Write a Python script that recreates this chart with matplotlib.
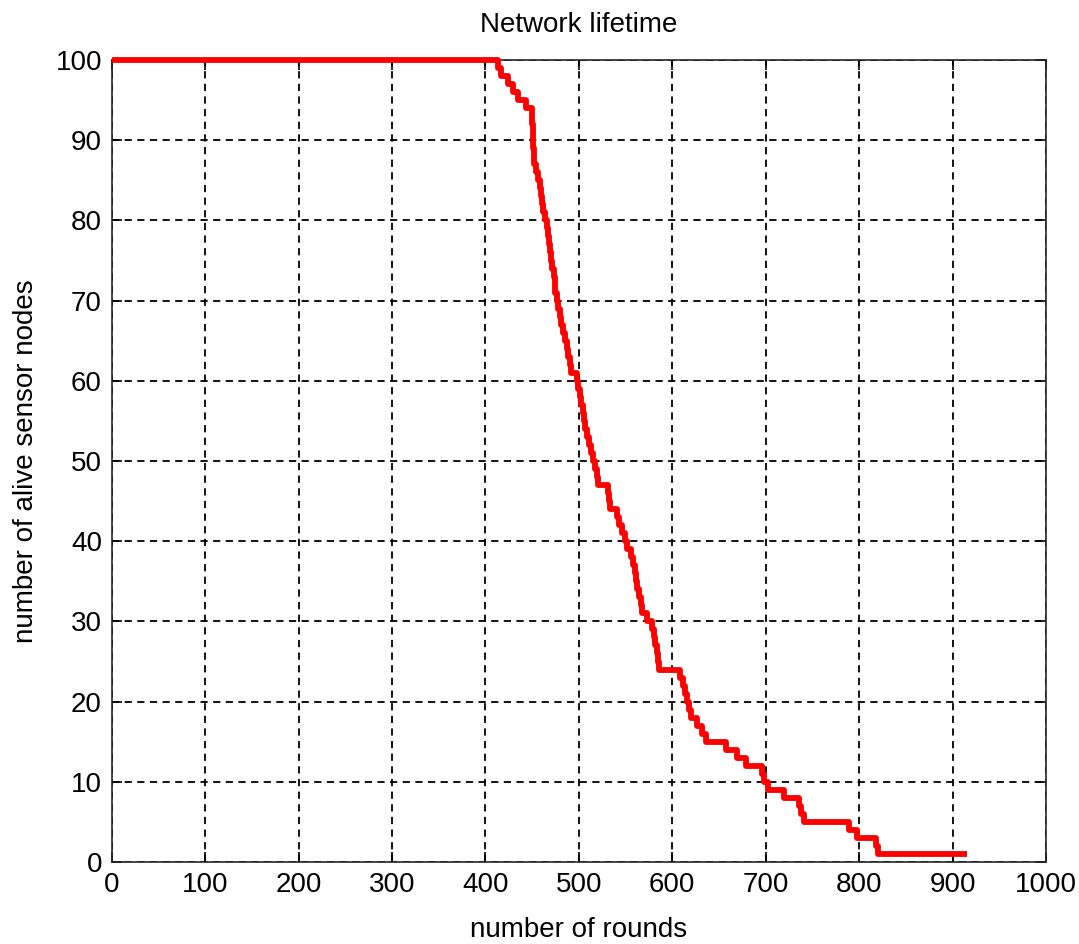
import matplotlib
matplotlib.use("Agg")
import matplotlib.pyplot as plt
from matplotlib import font_manager

# ---- data ----
rounds = [0, 413, 417, 424, 429, 435, 443, 450, 451, 452, 454, 456, 458, 459, 461,
          462, 464, 466, 467, 468, 469, 470, 471, 473, 474, 475, 477, 478, 480,
          481, 483, 485, 487, 488, 490, 492, 498, 499, 501, 502, 504, 505, 507,
          509, 511, 513, 515, 517, 519, 520, 531, 532, 533, 541, 543, 546, 549,
          552, 556, 558, 560, 561, 562, 564, 566, 568, 573, 578, 580, 582, 584,
          585, 586, 608, 611, 614, 616, 618, 620, 626, 632, 636, 658, 669, 679,
          696, 698, 702, 720, 736, 738, 741, 789, 798, 818, 820, 915]
alive = [100, 99, 98, 97, 96, 95, 94, 92, 89, 87, 86, 85, 84, 83, 82,
         81, 80, 79, 78, 77, 76, 75, 74, 73, 72, 71, 70, 69, 68,
         67, 66, 65, 64, 63, 62, 61, 60, 59, 58, 57, 56, 55, 54,
         53, 52, 51, 50, 49, 48, 47, 46, 45, 44, 43, 42, 41, 40,
         39, 38, 37, 36, 35, 34, 33, 32, 31, 30, 29, 28, 27, 26,
         25, 24, 23, 22, 21, 20, 19, 18, 17, 16, 15, 14, 13, 12,
         11, 10, 9, 8, 7, 6, 5, 4, 3, 2, 1, 1]
xticks = [0, 100, 200, 300, 400, 500, 600, 700, 800, 900, 1000]
yticks = [0, 10, 20, 30, 40, 50, 60, 70, 80, 90, 100]

title = "Network lifetime"
xlabel = "number of rounds"
ylabel = "number of alive sensor nodes"

avail = {f.name for f in font_manager.fontManager.ttflist}
fam = ["Liberation Sans Narrow"] if "Liberation Sans Narrow" in avail else ["Liberation Sans"]
plt.rcParams["font.family"] = fam + ["DejaVu Sans"]

fig = plt.figure(figsize=(10.79, 9.44), dpi=100)
ax = fig.add_axes([111.7 / 1079, 1 - 862 / 944, (1046 - 111.7) / 1079, (862 - 60) / 944])

ax.plot(rounds, alive, color="#ff0000", linewidth=4.2, drawstyle="steps-post",
        solid_capstyle="butt", zorder=3, clip_on=False)

ax.set_xlim(0, 1000)
ax.set_ylim(0, 100)
ax.set_xticks(xticks)
ax.set_yticks(yticks)
ax.grid(True, color="black", linestyle=(0, (4, 3)), linewidth=1.3)
ax.tick_params(direction="in", length=7, width=1.2, top=True, right=True,
               labelsize=20, pad=7, colors="black")
for s in ax.spines.values():
    s.set_linewidth(1.2)
    s.set_color("#262626")

ax.set_title(title, fontsize=20, pad=20)
ax.set_xlabel(xlabel, fontsize=20, labelpad=14)
ax.set_ylabel(ylabel, fontsize=20, labelpad=12)

fig.savefig("out.png", dpi=100)
